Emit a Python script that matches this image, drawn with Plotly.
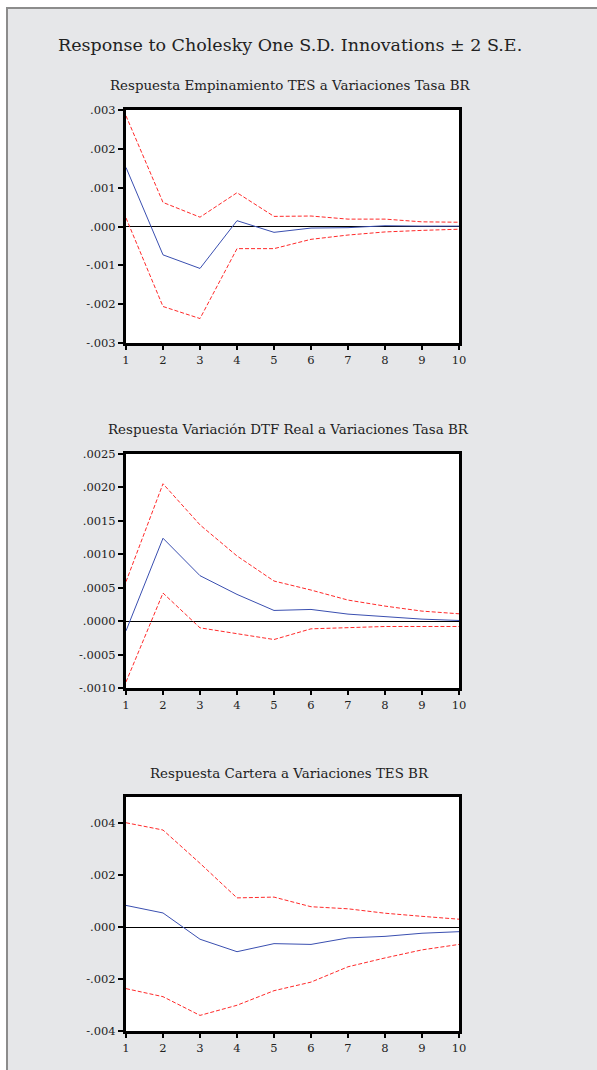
import plotly.graph_objects as go

# horizon (periods) shared by all three panels
periods = list(range(1, 11))

# panel 1: Empinamiento TES <- Tasa BR
tes_resp = [0.00152, -0.00073, -0.00108, 0.00015, -0.00015, -0.00004, -0.00003, 0.00002, 0.00001, 0.00001]
tes_upper = [0.00285, 0.00062, 0.00024, 0.00087, 0.00026, 0.00027, 0.00019, 0.00019, 0.00012, 0.00011]
tes_lower = [0.00022, -0.00206, -0.00237, -0.00057, -0.00057, -0.00033, -0.00022, -0.00014, -0.00010, -0.00007]

# panel 2: Variacion DTF Real <- Tasa BR
dtf_resp = [-0.000145, 0.00124, 0.00068, 0.00040, 0.00016, 0.000175, 0.000105, 0.00007, 0.00003, 0.00001]
dtf_upper = [0.00059, 0.002055, 0.00144, 0.000975, 0.00060, 0.000465, 0.000315, 0.000225, 0.00015, 0.00011]
dtf_lower = [-0.00091, 0.00042, -0.00010, -0.000185, -0.000275, -0.000115, -0.00010, -0.00008, -0.00008, -0.00008]

# panel 3: Cartera <- TES BR
car_resp = [0.00083, 0.00054, -0.00047, -0.00095, -0.00064, -0.00067, -0.00042, -0.00036, -0.00024, -0.00018]
car_upper = [0.00401, 0.00373, 0.00245, 0.00112, 0.00115, 0.00078, 0.00070, 0.00053, 0.00041, 0.00030]
car_lower = [-0.00237, -0.00268, -0.00340, -0.00301, -0.00245, -0.00212, -0.00153, -0.00119, -0.00088, -0.00067]

main_title = "Response to Cholesky One S.D. Innovations \u00b1 2 S.E."
panel_titles = [
    "Respuesta Empinamiento TES a Variaciones Tasa BR",
    "Respuesta Variaci\u00f3n DTF Real a Variaciones Tasa BR",
    "Respuesta Cartera a Variaciones TES BR",
]
y_ranges = [[-0.003, 0.003], [-0.0010, 0.0025], [-0.004, 0.005]]
y_ticks = [
    [-0.003, -0.002, -0.001, 0.0, 0.001, 0.002, 0.003],
    [-0.0010, -0.0005, 0.0, 0.0005, 0.0010, 0.0015, 0.0020, 0.0025],
    [-0.004, -0.002, 0.0, 0.002, 0.004],
]
y_ticklabels = [
    ["-.003", "-.002", "-.001", ".000", ".001", ".002", ".003"],
    ["-.0010", "-.0005", ".0000", ".0005", ".0010", ".0015", ".0020", ".0025"],
    ["-.004", "-.002", ".000", ".002", ".004"],
]

W, H = 597, 1070
FONT = "DejaVu Serif"
BG = "#e6e7e9"

def px_x(p):
    return p / W

def px_y(p):
    return 1 - p / H

# pixel boxes (top, bottom) of each plot frame, and title centres
boxes = [(110, 343), (454, 688), (797, 1031)]
title_cx = [290, 288, 289]
x_dom = [px_x(126), px_x(459)]

series = [
    (tes_resp, tes_upper, tes_lower),
    (dtf_resp, dtf_upper, dtf_lower),
    (car_resp, car_upper, car_lower),
]

fig = go.Figure()
layout = {}
annotations = []

for i, (resp, up, lo) in enumerate(series):
    n = "" if i == 0 else str(i + 1)
    xa, ya = "x" + n, "y" + n
    for vals, col, dash in [(up, "#ff2a2a", "4px,2px"), (lo, "#ff2a2a", "4px,2px"), (resp, "#3a4fb0", "solid")]:
        fig.add_trace(go.Scatter(x=periods, y=vals, mode="lines", xaxis=xa, yaxis=ya,
                                 line=dict(color=col, width=1, dash=dash), showlegend=False,
                                 hoverinfo="skip"))
    top, bot = boxes[i]
    layout["xaxis" + n] = dict(
        domain=x_dom, anchor=ya, range=[1, 10], tickvals=periods, ticks="outside",
        ticklen=4, tickwidth=2, tickcolor="black", showline=True, linecolor="black",
        linewidth=3, mirror=True, showgrid=False, zeroline=False,
        tickfont=dict(family=FONT, size=11.5, color="#222"), automargin=False,
    )
    layout["yaxis" + n] = dict(
        domain=[px_y(bot), px_y(top)], anchor=xa, range=y_ranges[i],
        tickvals=y_ticks[i], ticktext=y_ticklabels[i], ticks="outside", ticklen=5,
        tickwidth=2, tickcolor="black", showline=True, linecolor="black", linewidth=3,
        mirror=True, showgrid=False, zeroline=True, zerolinecolor="black",
        zerolinewidth=1, tickfont=dict(family=FONT, size=11.5, color="#222"), automargin=False,
    )
    annotations.append(dict(
        text=panel_titles[i], xref="paper", yref="paper", x=px_x(title_cx[i]), y=px_y(top - 24),
        xanchor="center", yanchor="middle", showarrow=False,
        font=dict(family=FONT, size=13.4, color="#222"),
    ))

annotations.append(dict(
    text=main_title, xref="paper", yref="paper", x=px_x(56), y=px_y(45),
    xanchor="left", yanchor="middle", showarrow=False,
    font=dict(family=FONT, size=17.5, color="#222"),
))

# panel frame: white outer strip with gray border lines at top and left
shapes = [
    dict(type="rect", xref="paper", yref="paper", x0=0, x1=1, y0=px_y(7), y1=1,
         fillcolor="white", line=dict(width=0), layer="below"),
    dict(type="rect", xref="paper", yref="paper", x0=0, x1=px_x(6), y0=0, y1=1,
         fillcolor="white", line=dict(width=0), layer="below"),
    dict(type="line", xref="paper", yref="paper", x0=px_x(6), x1=1, y0=px_y(8), y1=px_y(8),
         line=dict(color="#8c8c8c", width=2)),
    dict(type="line", xref="paper", yref="paper", x0=px_x(7), x1=px_x(7), y0=0, y1=px_y(7),
         line=dict(color="#8c8c8c", width=2)),
]

fig.update_layout(
    width=W, height=H, autosize=False,
    margin=dict(l=0, r=0, t=0, b=0),
    paper_bgcolor=BG, plot_bgcolor="white",
    annotations=annotations, shapes=shapes, **layout,
)

# drop the browser's default body margin so the figure fills the window
fig.write_html("out.html", config={"displayModeBar": False},
               post_script="document.body.style.margin='0';document.body.style.overflow='hidden';")
